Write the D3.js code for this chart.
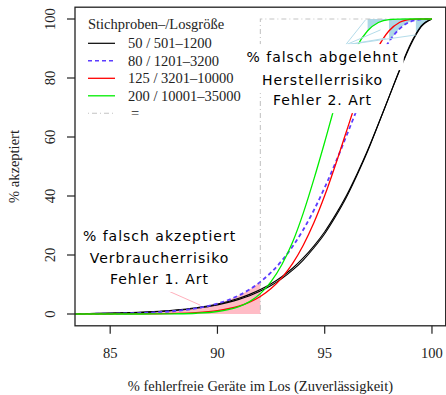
<!DOCTYPE html>
<html><head><meta charset="utf-8">
<script src="https://cdn.jsdelivr.net/npm/d3@7"></script>
<style>body{margin:0;background:#fff} svg{display:block}</style>
</head><body><svg id="c" width="446" height="395"></svg>
<script>
// ---- data ----
const xGood   = [83, 84, 85, 86, 87, 88, 89, 90, 90.5, 91, 91.5, 92, 92.5, 93, 93.5, 94, 94.5, 95, 95.5, 96, 96.5, 97, 97.5, 98, 98.5, 99, 99.25, 99.5, 100];
const n50a    = [0.10,0.17,0.29,0.49,0.80,1.31,2.12,3.38,4.25,5.32,6.65,8.27,10.25,12.65,15.5,19.0,23.1,27.9,33.6,40.0,47.4,55.5,64.4,73.6,82.7,91.1,94.6,97.4,100];
const n50b    = [0.085,0.145,0.25,0.43,0.71,1.18,1.94,3.1,3.94,4.96,6.22,7.77,9.67,12.0,14.85,18.3,22.45,27.2,32.95,39.4,46.95,55.15,64.3,73.65,82.95,91.55,94.9,97.65,100];
const n80     = [0.03,0.06,0.13,0.26,0.52,1.01,1.92,3.53,4.73,6.31,8.33,10.9,14.09,18.06,22.85,28.57,35.26,42.86,51.24,60.15,69.25,78.05,86.0,92.3,96.75,99.13,99.6,99.9,100];
const n125    = [0,0.003,0.008,0.022,0.065,0.18,0.46,1.14,1.78,2.69,4.04,5.95,8.63,12.27,17.07,23.31,30.99,40.14,50.53,61.6,72.6,82.6,90.55,96.0,98.9,99.85,99.97,100,100];
const n200    = [0,0,0,0.001,0.01,0.07,0.26,0.85,1.5,2.5,4.2,6.9,11.0,16.7,24.3,34.2,45.8,58.3,71.2,82.0,90.6,96.0,98.8,99.8,99.95,100,100,100,100];

const legendTitle  = "Stichproben–/Losgröße";
const legendLabels = ["50 / 501–1200", "80 / 1201–3200", "125 / 3201–10000", "200 / 10001–35000", "="];
const xTicks = [85, 90, 95, 100];
const yTicks = [0, 20, 40, 60, 80, 100];
const xTitle = "% fehlerfreie Geräte im Los (Zuverlässigkeit)";
const yTitle = "% akzeptiert";

const limitX = 92;            // Grenzqualität
const blueStarts = [99.25, 98, 98, 97];   // black, dashed, red, green
const blueOrigin = [95.97, 91.2];
const blueTargets = [[96.9, 99.7], [97.6, 96.3], [97.85, 93.5], [99.25, 94.6]];
const pinkPointer = [[87.4, 8.8], [89.2, 3.0]];
const labelLow  = {x: 87.3, ys: [24.7, 17.3, 10.2], lines: ["% falsch akzeptiert", "Verbraucherrisiko", "Fehler 1. Art"]};
const labelHigh = {x: 94.9, ys: [85.4, 77.6, 70.8], lines: ["% falsch abgelehnt", "Herstellerrisiko", "Fehler 2. Art"]};

// ---- chart ----
const svg = d3.select("#c");
const x = d3.scaleLinear().domain([83.36, 100.64]).range([75, 445.7]);
const y = d3.scaleLinear().domain([-4, 104]).range([325.8, 7.2]);
const serif = "'Liberation Serif','Times New Roman',serif";
const sans = "'DejaVu Sans',sans-serif";

svg.append("clipPath").attr("id","pc").append("rect")
  .attr("x", x.range()[0]).attr("y", y.range()[1])
  .attr("width", x.range()[1]-x.range()[0]).attr("height", y.range()[0]-y.range()[1]);
const g = svg.append("g").attr("clip-path","url(#pc)");

const series = [
  {v: n50a, color: "#000", dash: null, w: 1.1},
  {v: n50b, color: "#000", dash: null, w: 1.1},
  {v: n80,  color: "#5c3cff", dash: "4,3", w: 1.8},
  {v: n125, color: "#ff0000", dash: null, w: 1.3},
  {v: n200, color: "#00ee00", dash: null, w: 1.3}
];
const pts = arr => xGood.map((xv,i)=>[xv, arr[i]]);

// pink area under the dashed curve up to the limit
const pinkPts = pts(n80).filter(p => p[0] <= limitX);
g.append("path").datum(pinkPts)
  .attr("d", d3.area().x(d=>x(d[0])).y0(y(0)).y1(d=>y(d[1])).curve(d3.curveMonotoneX))
  .attr("fill", "#ffbcc6");

// light blue areas above curves
[[n50a,blueStarts[0]],[n80,blueStarts[1]],[n125,blueStarts[2]],[n200,blueStarts[3]]].forEach(([arr,s])=>{
  const p = pts(arr).filter(d=>d[0] >= s);
  g.append("path").datum(p)
    .attr("d", d3.area().x(d=>x(d[0])).y0(y(100)).y1(d=>y(d[1])).curve(d3.curveMonotoneX))
    .attr("fill", "#add8e6");
});

// grey dot-dash limit lines
g.append("path")
  .attr("d", d3.line()([[x(limitX), y(0)], [x(limitX), y(100)], [x(100), y(100)]]))
  .attr("fill","none").attr("stroke","#c4c4c4").attr("stroke-width",1.1)
  .attr("stroke-dasharray","1,3,5,3");

// curves
const line = d3.line().x(d=>x(d[0])).y(d=>y(d[1])).curve(d3.curveMonotoneX);
series.forEach(s=>{
  g.append("path").datum(pts(s.v)).attr("d", line)
    .attr("fill","none").attr("stroke", s.color).attr("stroke-width", s.w)
    .attr("stroke-dasharray", s.dash);
});

// pointers
blueTargets.forEach(t=>{
  g.append("line").attr("x1", x(blueOrigin[0])).attr("y1", y(blueOrigin[1]))
   .attr("x2", x(t[0])).attr("y2", y(t[1])).attr("stroke","#b4dcea").attr("stroke-width",1);
});
g.append("line").attr("x1", x(pinkPointer[0][0])).attr("y1", y(pinkPointer[0][1]))
  .attr("x2", x(pinkPointer[1][0])).attr("y2", y(pinkPointer[1][1]))
  .attr("stroke","#ffb0bc").attr("stroke-width",1);

// boxed labels
function boxedLabel(L){
  const grp = g.append("g");
  L.lines.forEach((t,i)=>{
    const r = grp.append("rect").attr("fill","#fff");
    const tx = grp.append("text").attr("x", x(L.x)).attr("y", y(L.ys[i]))
      .attr("text-anchor","middle").attr("font-family", sans).attr("font-size", 14)
      .attr("letter-spacing", 1).attr("fill","#000").text(t);
    const bb = tx.node().getBBox();
    r.attr("x", bb.x - 5).attr("width", bb.width + 10)
     .attr("y", y(L.ys[i]) - 18).attr("height", 26);
  });
}
boxedLabel(labelLow);
boxedLabel(labelHigh);

// frame
svg.append("rect").attr("x", x.range()[0]).attr("y", y.range()[1])
  .attr("width", x.range()[1]-x.range()[0]).attr("height", y.range()[0]-y.range()[1])
  .attr("fill","none").attr("stroke","#222").attr("stroke-width",1.3);

// x axis
const xa = svg.append("g");
xTicks.forEach(t=>{
  xa.append("line").attr("x1", x(t)).attr("x2", x(t)).attr("y1", y.range()[0]).attr("y2", y.range()[0]+8)
    .attr("stroke","#222").attr("stroke-width",1.2);
  xa.append("text").attr("x", x(t)).attr("y", 358).attr("text-anchor","middle")
    .attr("font-family", serif).attr("font-size", 14.5).attr("fill","#222").text(t);
});
svg.append("text").attr("x", (x.range()[0]+x.range()[1])/2).attr("y", 391).attr("text-anchor","middle")
  .attr("font-family", serif).attr("font-size", 14.5).attr("fill","#222").text(xTitle);

// y axis
const ya = svg.append("g");
yTicks.forEach(t=>{
  ya.append("line").attr("x1", x.range()[0]-8).attr("x2", x.range()[0]).attr("y1", y(t)).attr("y2", y(t))
    .attr("stroke","#222").attr("stroke-width",1.2);
  ya.append("text").attr("transform", `translate(54.5,${y(t)}) rotate(-90)`).attr("text-anchor","middle")
    .attr("font-family", serif).attr("font-size", 14.5).attr("fill","#222").text(t);
});
svg.append("text").attr("transform", `translate(19,${(y.range()[0]+y.range()[1])/2}) rotate(-90)`)
  .attr("text-anchor","middle").attr("font-family", serif).attr("font-size", 14.5).attr("fill","#222").text(yTitle);

// legend
const lg = svg.append("g");
lg.append("text").attr("x", 88).attr("y", 28.5).attr("font-family", serif).attr("font-size", 14.5)
  .attr("fill","#222").text(legendTitle);
const legStyles = [
  {color:"#000", dash:null, w:1.2},
  {color:"#5c3cff", dash:"4,3", w:1.6},
  {color:"#ff0000", dash:null, w:1.3},
  {color:"#00ee00", dash:null, w:1.3},
  {color:"#c4c4c4", dash:"1,3,5,3", w:1.1}
];
legendLabels.forEach((lab,i)=>{
  const ly = 43.3 + i*17.5;
  lg.append("line").attr("x1",88).attr("x2",115).attr("y1",ly).attr("y2",ly)
    .attr("stroke", legStyles[i].color).attr("stroke-width", legStyles[i].w)
    .attr("stroke-dasharray", legStyles[i].dash);
  lg.append("text").attr("x", i===4 ? 131 : 128).attr("y", ly+5).attr("font-family", serif)
    .attr("font-size", 14.5).attr("fill","#222").text(lab);
});
</script></body></html>
